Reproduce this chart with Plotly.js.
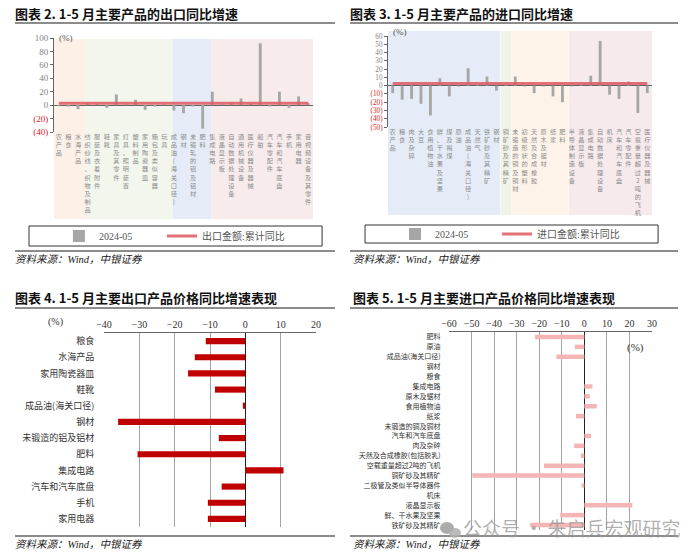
<!DOCTYPE html>
<html>
<head>
<meta charset="utf-8">
<script src="https://cdn.plot.ly/plotly-3.0.1.min.js"></script>
<style>
  body { margin: 0; background: #fff; }
  #wrap { position: relative; width: 700px; height: 560px; overflow: hidden; }
  .panel { position: absolute; width: 350px; height: 280px; }
  .ttl { position: absolute; font-family: "Noto Sans CJK SC", sans-serif; font-weight: bold;
         font-size: 13px; line-height: 14px; color: #111; white-space: nowrap; z-index: 5; }
  .rule { position: absolute; background: #8c8c8c; z-index: 5; }
  .src { position: absolute; font-family: "Liberation Serif", "Noto Sans CJK SC", serif; font-style: italic;
         font-size: 10.5px; line-height: 11px; color: #222; white-space: nowrap; z-index: 5; }
  .wm { position: absolute; left: 463px; top: 518px; font-family: "Noto Sans CJK SC", sans-serif;
        font-size: 19px; line-height: 20px; color: rgba(150,150,150,0.75); white-space: nowrap; z-index: 6; }
  .dot { position: absolute; border-radius: 50%; background: rgba(150,150,150,0.8); z-index: 6; }
</style>
</head>
<body>
<div id="wrap">
  <div id="expChart" class="panel" style="left:0;top:0"></div>
  <div id="impChart" class="panel" style="left:350px;top:0"></div>
  <div id="expPrice" class="panel" style="left:0;top:280px"></div>
  <div id="impPrice" class="panel" style="left:350px;top:280px"></div>

  <div class="ttl" style="left:15px;top:7px">图表 2. 1-5 月主要产品的出口同比增速</div>
  <div class="rule" style="left:15px;top:22px;width:320px;height:2px"></div>
  <div class="ttl" style="left:350px;top:7px">图表 3. 1-5 月主要产品的进口同比增速</div>
  <div class="rule" style="left:350px;top:22px;width:328px;height:2px"></div>
  <div class="ttl" style="left:15px;top:291px">图表 4. 1-5 月主要出口产品价格同比增速表现</div>
  <div class="rule" style="left:15px;top:307px;width:320px;height:2px"></div>
  <div class="ttl" style="left:353px;top:291px">图表 5. 1-5 月主要进口产品价格同比增速表现</div>
  <div class="rule" style="left:350px;top:307px;width:328px;height:2px"></div>

  <div class="rule" style="left:15px;top:250px;width:320px;height:1.5px"></div>
  <div class="src" style="left:15px;top:254px">资料来源：Wind，中银证券</div>
  <div class="rule" style="left:350px;top:250px;width:328px;height:1.5px"></div>
  <div class="src" style="left:353px;top:254px">资料来源：Wind，中银证券</div>
  <div class="rule" style="left:15px;top:535px;width:320px;height:1.5px"></div>
  <div class="src" style="left:15px;top:539px">资料来源：Wind，中银证券</div>
  <div class="rule" style="left:350px;top:535px;width:328px;height:1.5px"></div>
  <div class="src" style="left:353px;top:539px">资料来源：Wind，中银证券</div>

  <div class="dot" style="left:440px;top:522px;width:14px;height:12px"></div>
  <div class="dot" style="left:449px;top:528px;width:12px;height:10px;background:rgba(175,175,175,0.85)"></div>
  <div class="wm">公众号 · 朱启兵宏观研究</div>
</div>

<script>
const SERIF = '"Liberation Serif", "Noto Sans CJK SC", serif';
const CJK = '"Noto Sans CJK SC", sans-serif';

// chart 2: export yoy by product, May 2024
const exportCats = [
  "农产品", "粮食", "水海产品",
  "纺织纱线、织物及制品", "服装及衣着附件", "鞋靴", "家具及其零件", "灯具、照明装置",
  "塑料制品", "家用陶瓷器皿", "箱包及类似容器", "玩具",
  "成品油(海关口径)", "钢材", "未锻轧的铝及铝材", "肥料",
  "集成电路", "液晶显示板", "自动数据处理设备", "通用机械设备", "医疗仪器及器械",
  "船舶", "汽车零配件", "汽车和汽车底盘", "手机", "家用电器", "音视频设备及其零件"
];
const exportYoY = [
  -1, -2, -6,
  3, 2, -4, 16, 1,
  8, -7, -2, 1,
  -8, -12, -2, -35,
  20, 1, 3, 10, 2,
  92, -2, 20, -4, 13, 3
];
const exportCumYoY = 2.7;
const exportTicks = [100, 80, 60, 40, 20, 0, -20, -40];
const exportTickText = ["100", "80", "60", "40", "20", "0", "(20)", "(40)"];

// chart 3: import yoy by product, May 2024
const importCats = [
  "农产品", "粮食", "肉及杂碎", "大豆", "食用植物油", "鲜、干水果及坚果",
  "煤及褐煤", "原油", "成品油(海关口径)", "天然气", "铁矿砂及其精矿", "钢材",
  "铜矿砂及其精矿",
  "未锻造的铜及铜材", "初级形状的塑料", "天然及合成橡胶", "原木及锯材", "纸浆", "肥料",
  "半导体制造设备", "液晶显示板", "集成电路", "自动数据处理设备", "机床",
  "汽车和汽车底盘", "汽车零配件", "空载重量超过2吨的飞机", "医疗仪器及器械"
];
const importYoY = [
  -9, -17, -16, -22, -36, 9,
  -13, -1, 21, 1, 11, -6,
  1,
  11, -1, -9, -1, -13, -20,
  -1, 1, 12, 54, -11,
  -16, 5, -33, -9
];
const importCumYoY = 2.5;
const importTicks = [60, 50, 40, 30, 20, 10, 0, -10, -20, -30, -40, -50];
const importTickText = ["60", "50", "40", "30", "20", "10", "0", "(10)", "(20)", "(30)", "(40)", "(50)"];

// chart 4: export price yoy
const expPriceCats = [
  "粮食", "水海产品", "家用陶瓷器皿", "鞋靴", "成品油(海关口径)", "钢材",
  "未锻造的铝及铝材", "肥料", "集成电路", "汽车和汽车底盘", "手机", "家用电器"
];
const expPriceYoY = [-11.2, -14.3, -16.2, -8.6, -0.7, -36.0, -7.5, -30.5, 10.8, -6.7, -10.6, -10.6];

// chart 5: import price yoy
const impPriceCats = [
  "肥料", "原油", "成品油(海关口径)", "钢材", "粮食", "集成电路", "原木及锯材",
  "食用植物油", "纸浆", "未锻造的铜及铜材", "汽车和汽车底盘", "肉及杂碎",
  "天然及合成橡胶(包括胶乳)", "空载重量超过2吨的飞机", "铜矿砂及其精矿",
  "二极管及类似半导体器件", "机床", "液晶显示板", "鲜、干水果及坚果", "铁矿砂及其精矿"
];
const impPriceYoY = [
  -21.9, -4.2, -12.4, 0, 0, 3.6, 2.4,
  5.5, -3.7, 0, 3.0, -4.5,
  -1.5, -17.9, -49.7,
  -1.2, 0, 21.3, -10.7, -24.0
];

function vert(s) {
  return s.split("").join("<br>");
}

function redNeg(texts, ticks) {
  return texts.map((t, i) => ticks[i] < 0 ? '<span style="color:#e0201c">' + t + '</span>' : t);
}

function band(x0, x1, color, y0, y1) {
  return {
    type: "rect", xref: "x", yref: "paper", x0: x0, x1: x1, y0: y0, y1: y1,
    fillcolor: color, line: { width: 0 }, layer: "below"
  };
}

function legendAt(x, y) {
  return {
    orientation: "h",
    x: x, xanchor: "left",
    y: y, yanchor: "middle",
    bgcolor: "rgba(0,0,0,0)",
    itemwidth: 30,
    font: { family: SERIF, size: 10, color: "#555" }
  };
}

const config = { displayModeBar: false, staticPlot: true };

function renderYoY(id, cats, values, cumValue, cumName, ticks, tickText, opts) {
  const traces = [
    {
      type: "bar",
      name: "2024-05",
      legend: "legend",
      x: cats,
      y: values,
      width: 0.3,
      marker: { color: "#a6a6a6" }
    },
    {
      type: "scatter",
      mode: "lines",
      name: cumName,
      legend: "legend2",
      x: cats,
      y: cats.map(() => cumValue),
      line: { color: "rgba(222,88,96,0.85)", width: 3 }
    }
  ];

  Plotly.newPlot(id, traces, {
    width: 350,
    height: 280,
    margin: Object.assign({ autoexpand: false }, opts.margin),
    paper_bgcolor: "rgba(0,0,0,0)",
    plot_bgcolor: "rgba(0,0,0,0)",
    font: { family: SERIF },
    showlegend: true,
    legend: legendAt(opts.legendX[0], opts.legendY),
    legend2: legendAt(opts.legendX[1], opts.legendY),
    xaxis: {
      type: "category",
      range: [-0.5, cats.length - 0.5],
      tickvals: cats,
      ticktext: cats.map(vert),
      tickangle: 0,
      tickfont: { family: CJK, size: 6.2, color: "#8c8c8c" },
      showgrid: false, zeroline: false, showline: false, ticks: ""
    },
    yaxis: {
      range: opts.yRange,
      tickvals: ticks,
      ticktext: redNeg(tickText, ticks),
      tickfont: { family: SERIF, size: opts.tickSize, color: "#7f7f7f" },
      ticks: "outside", ticklen: 3, tickcolor: "#666",
      showline: true, linecolor: "#666", linewidth: 1,
      showgrid: false,
      zeroline: true, zerolinecolor: "#666", zerolinewidth: 1
    },
    shapes: opts.bands.concat([{
      type: "rect", xref: "paper", yref: "paper",
      x0: opts.box[0], x1: opts.box[1], y0: opts.box[2], y1: opts.box[3],
      line: { color: "#333", width: 1 }, fillcolor: "rgba(0,0,0,0)"
    }]),
    annotations: [{
      xref: "paper", yref: "paper", x: opts.pct[0], y: opts.pct[1],
      text: "(%)", showarrow: false, xanchor: "left", yanchor: "middle",
      font: { family: SERIF, size: 9, color: "#555" }
    }]
  }, config);
}

function renderPrice(id, cats, values, color, opts) {
  Plotly.newPlot(id, [{
    type: "bar",
    orientation: "h",
    x: values,
    y: cats,
    width: opts.barWidth,
    marker: { color: color }
  }], {
    width: 350,
    height: 280,
    margin: Object.assign({ autoexpand: false }, opts.margin),
    paper_bgcolor: "rgba(0,0,0,0)",
    plot_bgcolor: "rgba(0,0,0,0)",
    font: { family: SERIF },
    showlegend: false,
    xaxis: {
      side: "top",
      range: opts.xRange,
      dtick: 10,
      tickfont: { family: SERIF, size: 10, color: "#333" },
      showgrid: true, gridcolor: "#a3a3a3", gridwidth: 1,
      zeroline: true, zerolinecolor: "#222", zerolinewidth: 1,
      showline: true, linecolor: "#666", linewidth: 1,
      ticks: ""
    },
    yaxis: {
      type: "category",
      autorange: "reversed",
      tickfont: { family: CJK, size: opts.labelSize, color: "#333" },
      ticks: "outside", ticklen: opts.labelGap, tickcolor: "rgba(0,0,0,0)",
      showgrid: false, zeroline: false, showline: false
    },
    annotations: [{
      xref: "paper", yref: "paper", x: opts.pct[0], y: opts.pct[1],
      text: "(%)", showarrow: false, xanchor: "center", yanchor: "middle",
      font: { family: SERIF, size: opts.pctSize, color: "#333" }
    }]
  }, config);
}

renderYoY("expChart", exportCats, exportYoY, exportCumYoY, "出口金额:累计同比",
  exportTicks, exportTickText, {
    margin: { l: 54, r: 37, t: 38, b: 148 },
    yRange: [-40, 100],
    tickSize: 9,
    legendX: [0.019, 0.417], legendY: -1.106,
    box: [-0.0965, 1.035, -1.0, -1.213],
    pct: [0.012, 1.0],
    bands: [
      band(-0.5, 2.8, "#fcf0e7", -0.926, 0.99),
      band(2.8, 11.9, "#f3f6ec", -0.926, 0.99),
      band(11.9, 15.9, "#e5ecf7", -0.926, 0.99),
      band(15.9, 27.0, "#f7ebec", -0.926, 0.99)
    ]
  });

renderYoY("impChart", importCats, importYoY, importCumYoY, "进口金额:累计同比",
  importTicks, importTickText, {
    margin: { l: 38, r: 48, t: 36, b: 153 },
    yRange: [-50, 60],
    tickSize: 7.2,
    legendX: [0.0265, 0.413], legendY: -1.176,
    box: [-0.087, 1.023, -1.077, -1.275],
    pct: [0.012, 1.045],
    bands: [
      band(-0.5, 11.4, "#e5ecf7", -0.967, 1.055),
      band(11.45, 12.6, "#eff4e6", -0.967, 1.055),
      band(12.65, 18.65, "#fdf3e8", -0.967, 1.055),
      band(18.7, 27.5, "#f6eaec", -0.967, 1.055)
    ]
  });

renderPrice("expPrice", expPriceCats, expPriceYoY, "#c00000", {
  margin: { l: 104, r: 34, t: 53, b: 33 },
  xRange: [-40, 20],
  barWidth: 0.38,
  labelSize: 9,
  labelGap: 7,
  pct: [-0.231, 1.057],
  pctSize: 10
});

renderPrice("impPrice", impPriceCats, impPriceYoY, "#f4b5b5", {
  margin: { l: 99, r: 48, t: 52, b: 30 },
  xRange: [-60, 30],
  barWidth: 0.45,
  labelSize: 7,
  labelGap: 6,
  pct: [0.92, 0.92],
  pctSize: 11
});
</script>
</body>
</html>
